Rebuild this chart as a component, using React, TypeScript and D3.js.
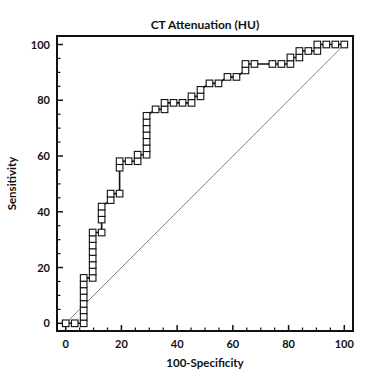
import React from "react";
import * as d3 from "d3";

// ROC curve points (100-Specificity, Sensitivity)
const fprValues = [
  0, 3.23, 6.45, 6.45, 6.45, 6.45, 6.45, 6.45, 6.45, 6.45,
  9.68, 9.68, 9.68, 9.68, 9.68, 9.68, 9.68, 9.68,
  12.9, 12.9, 12.9, 12.9,
  16.13, 16.13,
  19.35, 19.35, 19.35,
  22.58, 25.81, 25.81,
  29.03, 29.03, 29.03, 29.03, 29.03, 29.03, 29.03,
  32.26, 35.48, 35.48, 38.71, 41.94,
  45.16, 45.16, 48.39, 48.39,
  51.61, 54.84, 58.06, 61.29,
  64.52, 64.52, 67.74, 74.19, 77.42,
  80.65, 80.65, 83.87, 83.87, 87.1, 90.32, 90.32, 93.55, 96.77, 100,
];
const sensValues = [
  0, 0, 0, 2.33, 4.65, 6.98, 9.3, 11.63, 13.95, 16.28,
  16.28, 18.6, 20.93, 23.26, 25.58, 27.91, 30.23, 32.56,
  32.56, 37.21, 39.53, 41.86,
  44.19, 46.51,
  46.51, 55.81, 58.14,
  58.14, 58.14, 60.47,
  60.47, 62.79, 65.12, 67.44, 69.77, 72.09, 74.42,
  76.74, 76.74, 79.07, 79.07, 79.07,
  79.07, 81.4, 81.4, 83.72,
  86.05, 86.05, 88.37, 88.37,
  90.7, 93.02, 93.02, 93.02, 93.02,
  93.02, 95.35, 95.35, 97.67, 97.67, 97.67, 100, 100, 100, 100,
];
const majorTicks = [0, 20, 40, 60, 80, 100];
const minorTicks = [5, 10, 15, 25, 30, 35, 45, 50, 55, 65, 70, 75, 85, 90, 95];
const titleText = "CT Attenuation (HU)";
const xTitle = "100-Specificity";
const yTitle = "Sensitivity";

const W = 384;
const H = 375;
const frame = { left: 57, right: 353, top: 36, bottom: 331 };
const FONT = "Lato, 'Open Sans', sans-serif";

export default function App() {
  const x = d3.scaleLinear().domain([0, 100]).range([65.7, 344.3]);
  const y = d3.scaleLinear().domain([0, 100]).range([323.3, 44.5]);
  const pts = fprValues.map((v, i) => [v, sensValues[i]] as [number, number]);
  const line = d3
    .line<[number, number]>()
    .x((d) => x(d[0]))
    .y((d) => y(d[1]));
  const ms = 6.6;
  const majLen = 6;
  const minLen = 3.5;
  return (
    <svg
      width={W}
      height={H}
      style={{ position: "absolute", left: 0, top: 0, background: "#fff" }}
    >
      <rect x={0} y={0} width={W} height={H} fill="#fff" />
      <text
        x={(frame.left + frame.right) / 2}
        y={29}
        textAnchor="middle"
        fontFamily={FONT}
        fontWeight="bold"
        fontSize={12}
        fill="#111"
      >
        {titleText}
      </text>
      {/* diagonal reference line */}
      <line
        x1={x(0)}
        y1={y(0)}
        x2={x(100)}
        y2={y(100)}
        stroke="#888"
        strokeWidth={1}
      />
      {/* ticks */}
      {majorTicks.map((t) => (
        <g key={"mx" + t}>
          <line x1={x(t)} x2={x(t)} y1={frame.bottom} y2={frame.bottom - majLen} stroke="#111" strokeWidth={1.5} />
          <line x1={frame.left} x2={frame.left + majLen} y1={y(t)} y2={y(t)} stroke="#111" strokeWidth={1.5} />
          <text
            x={x(t)}
            y={348}
            textAnchor="middle"
            fontFamily={FONT}
            fontWeight="bold"
            fontSize={11}
            fill="#111"
          >
            {t}
          </text>
          <text
            x={50}
            y={y(t) + 4}
            textAnchor="end"
            fontFamily={FONT}
            fontWeight="bold"
            fontSize={11}
            fill="#111"
          >
            {t}
          </text>
        </g>
      ))}
      {minorTicks.map((t) => (
        <g key={"mn" + t}>
          <line x1={x(t)} x2={x(t)} y1={frame.bottom} y2={frame.bottom - minLen} stroke="#111" strokeWidth={1.2} />
          <line x1={frame.left} x2={frame.left + minLen} y1={y(t)} y2={y(t)} stroke="#111" strokeWidth={1.2} />
        </g>
      ))}
      <rect
        x={frame.left}
        y={frame.top}
        width={frame.right - frame.left}
        height={frame.bottom - frame.top}
        fill="none"
        stroke="#111"
        strokeWidth={2}
      />
      {/* ROC curve */}
      <path d={line(pts) || ""} fill="none" stroke="#111" strokeWidth={1.6} />
      {pts.map((p, i) => (
        <rect
          key={i}
          x={x(p[0]) - ms / 2}
          y={y(p[1]) - ms / 2}
          width={ms}
          height={ms}
          fill="#fff"
          stroke="#111"
          strokeWidth={1.1}
        />
      ))}
      <text
        x={(frame.left + frame.right) / 2}
        y={367}
        textAnchor="middle"
        fontFamily={FONT}
        fontWeight="bold"
        fontSize={11.5}
        fill="#111"
      >
        {xTitle}
      </text>
      <text
        transform={`translate(16, ${(frame.top + frame.bottom) / 2}) rotate(-90)`}
        textAnchor="middle"
        fontFamily={FONT}
        fontWeight="bold"
        fontSize={11.5}
        fill="#111"
      >
        {yTitle}
      </text>
    </svg>
  );
}
